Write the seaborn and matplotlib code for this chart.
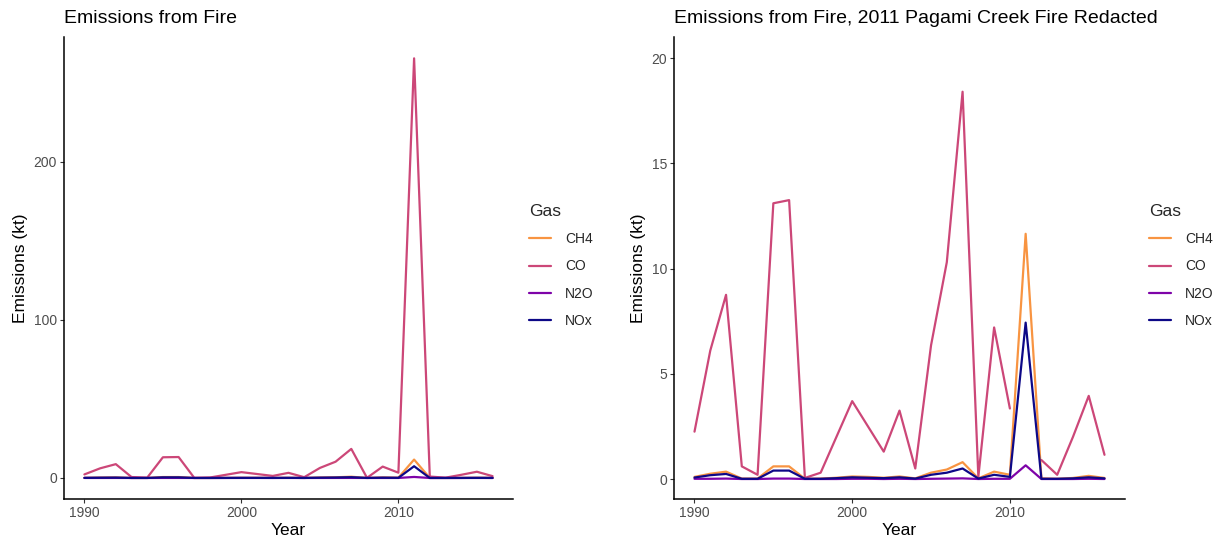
import numpy as np
import pandas as pd
import matplotlib
matplotlib.use("Agg")
import matplotlib.pyplot as plt
import seaborn as sns

years = list(range(1990, 2017))
gases = ["CH4", "CO", "N2O", "NOx"]

co = [2.25, 6.1, 8.75, 0.6, 0.2, 13.1, 13.25, 0.05, 0.3, 2.0, 3.7, 2.5, 1.3, 3.25, 0.5,
      6.35, 10.3, 18.4, 0.1, 7.2, 3.35, 265.5, 0.9, 0.2, 2.0, 3.95, 1.15]
ch4 = [0.1, 0.25, 0.35, 0.02, 0.02, 0.6, 0.6, 0.01, 0.02, 0.06, 0.12, 0.1, 0.06, 0.12, 0.03,
       0.3, 0.45, 0.8, 0.03, 0.35, 0.2, 11.65, 0.03, 0.01, 0.05, 0.15, 0.05]
nox = [0.07, 0.18, 0.24, 0.01, 0.01, 0.4, 0.4, 0.01, 0.01, 0.04, 0.08, 0.06, 0.04, 0.08, 0.02,
       0.2, 0.3, 0.5, 0.02, 0.2, 0.1, 7.43, 0.01, 0.01, 0.03, 0.08, 0.03]
n2o = [0.01, 0.01, 0.02, 0.0, 0.0, 0.02, 0.02, 0.0, 0.0, 0.0, 0.01, 0.01, 0.0, 0.01, 0.0,
       0.01, 0.02, 0.03, 0.0, 0.01, 0.01, 0.65, 0.0, 0.0, 0.0, 0.01, 0.0]
redacted_year = 2011

palette = {"CH4": "#F89441", "CO": "#CC4778", "N2O": "#7E03A8", "NOx": "#0D0887"}

def long_frame(redact):
    rows = []
    series = {"CH4": ch4, "CO": co, "N2O": n2o, "NOx": nox}
    for g in gases:
        seg = 0
        for y, v in zip(years, series[g]):
            if redact and g == "CO" and y == redacted_year:
                seg += 1
                continue
            rows.append({"Year": y, "Emissions": v, "Gas": g, "seg": f"{g}_{seg}"})
    return pd.DataFrame(rows)

sns.set_theme(style="white")
plt.rcParams["font.family"] = ["Liberation Sans", "DejaVu Sans"]

fig = plt.figure(figsize=(12.23, 5.42), dpi=100)
W, H = 1223, 542
axL = fig.add_axes([64 / W, (H - 499) / H, 449 / W, 462 / H])
axR = fig.add_axes([674 / W, (H - 499) / H, 451 / W, 462 / H])

panels = [
    (axL, long_frame(False), "Emissions from Fire", (-13.3, 279.0), [0, 100, 200], 529),
    (axR, long_frame(True), "Emissions from Fire, 2011 Pagami Creek Fire Redacted",
     (-0.95, 21.0), [0, 5, 10, 15, 20], 1149),
]

for ax, df, title, ylim, yt, legx in panels:
    sns.lineplot(data=df, x="Year", y="Emissions", hue="Gas", hue_order=gases,
                 units="seg", estimator=None, palette=palette, linewidth=1.6,
                 ax=ax, legend=True)
    ax.set_xlim(1988.7, 2017.3)
    ax.set_ylim(*ylim)
    ax.set_xticks([1990, 2000, 2010])
    ax.set_yticks(yt)
    ax.set_title(title, loc="left", fontsize=14, color="black", pad=10)
    ax.set_xlabel("Year", fontsize=12.5, color="black", labelpad=2)
    ax.set_ylabel("Emissions (kt)", fontsize=12.5, color="black", labelpad=4)
    for s in ["top", "right"]:
        ax.spines[s].set_visible(False)
    for s in ["left", "bottom"]:
        ax.spines[s].set_color("black")
        ax.spines[s].set_linewidth(1.1)
    ax.tick_params(axis="both", which="both", length=3, width=0.8, color="#333333",
                   labelsize=10, labelcolor="#4D4D4D", bottom=True, left=True, pad=2)
    handles, labels = ax.get_legend_handles_labels()
    ax.legend(handles=handles, labels=labels, title="Gas", frameon=False,
              loc="upper left", bbox_to_anchor=(legx / W, 1 - 204 / H),
              bbox_transform=fig.transFigure, fontsize=10, title_fontsize=12.5,
              handlelength=1.6, labelspacing=0.95, handletextpad=1.0,
              borderaxespad=0, borderpad=0)
    ax.get_legend()._legend_box.align = "left"
    for lh in ax.get_legend().get_lines():
        lh.set_linewidth(1.6)

fig.savefig("out.png", dpi=100)
